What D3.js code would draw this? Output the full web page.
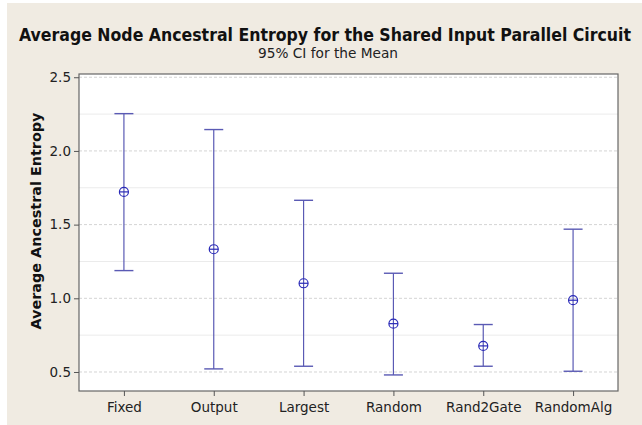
<!DOCTYPE html>
<html><head><meta charset="utf-8">
<script src="https://cdn.jsdelivr.net/npm/d3@7"></script>
<style>body{margin:0;background:#fff}svg{display:block}</style>
</head><body>
<svg id="c" width="642" height="425"></svg>
<script>
const categories = ["Fixed","Output","Largest","Random","Rand2Gate","RandomAlg"];
const means = [1.722, 1.333, 1.102, 0.828, 0.677, 0.987];
const lower = [1.188, 0.521, 0.539, 0.480, 0.539, 0.505];
const upper = [2.253, 2.145, 1.665, 1.170, 0.822, 1.469];
const yTicks = [0.5, 1.0, 1.5, 2.0, 2.5];
const yMinor = [0.75, 1.25, 1.75, 2.25];

const svg = d3.select("#c");
const m = {l:79, r:618, t:74, b:391};
svg.append("rect").attr("x",7).attr("y",3).attr("width",635).attr("height",422).attr("fill","#f0ebe2");

const x = d3.scalePoint().domain(categories).range([m.l, m.r]).padding(0.5);
const y = d3.scaleLinear().domain([0.371, 2.522]).range([m.b, m.t]);

svg.append("rect").attr("x",m.l).attr("y",m.t).attr("width",m.r-m.l).attr("height",m.b-m.t).attr("fill","#fff");

// gridlines
svg.append("g").selectAll("line").data(yMinor).join("line")
  .attr("x1",m.l).attr("x2",m.r).attr("y1",d=>y(d)).attr("y2",d=>y(d))
  .attr("stroke","#ebebeb").attr("stroke-width",1);
svg.append("g").selectAll("line").data(yTicks).join("line")
  .attr("x1",m.l).attr("x2",m.r).attr("y1",d=>y(d)).attr("y2",d=>y(d))
  .attr("stroke","#d4d4d4").attr("stroke-width",1).attr("stroke-dasharray","3,2");

// frame
svg.append("rect").attr("x",m.l).attr("y",m.t).attr("width",m.r-m.l).attr("height",m.b-m.t)
  .attr("fill","none").attr("stroke","#666").attr("stroke-width",1.2);

const font = "Tahoma, 'DejaVu Sans', Verdana, sans-serif";
const titleFont = "'DejaVu Sans Condensed', 'Liberation Sans Narrow', 'DejaVu Sans', sans-serif";
// y axis
const ya = svg.append("g").attr("transform",`translate(${m.l},0)`)
  .call(d3.axisLeft(y).tickValues(yTicks).tickFormat(d3.format(".1f")).tickSize(5).tickPadding(3));
ya.select(".domain").remove();
ya.selectAll("line").attr("stroke","#555");
ya.selectAll("text").attr("font-family",font).attr("font-size",13.5).attr("fill","#222");

// x axis
const xa = svg.append("g").attr("transform",`translate(0,${m.b})`)
  .call(d3.axisBottom(x).tickSize(5).tickPadding(6));
xa.select(".domain").remove();
xa.selectAll("line").attr("stroke","#555");
xa.selectAll("text").attr("font-family",font).attr("font-size",13.5).attr("fill","#222");

// error bars
const g = svg.append("g");
const barCol = "#5a5ab4";
categories.forEach((c,i)=>{
  const cx = x(c);
  g.append("line").attr("x1",cx).attr("x2",cx).attr("y1",y(lower[i])).attr("y2",y(upper[i]))
    .attr("stroke",barCol).attr("stroke-width",1.2);
  [lower[i],upper[i]].forEach(v=>{
    g.append("line").attr("x1",cx-9.5).attr("x2",cx+9.5).attr("y1",y(v)).attr("y2",y(v))
      .attr("stroke",barCol).attr("stroke-width",1.4);
  });
  const cy = y(means[i]);
  g.append("circle").attr("cx",cx).attr("cy",cy).attr("r",4.5).attr("fill","none").attr("stroke","#2a2ab8").attr("stroke-width",1.2);
  g.append("line").attr("x1",cx-4.5).attr("x2",cx+4.5).attr("y1",cy).attr("y2",cy).attr("stroke","#2a2ab8").attr("stroke-width",1.2);
});

// titles
svg.append("text").attr("x",325).attr("y",41).attr("text-anchor","middle")
  .attr("font-family",titleFont).attr("font-weight","bold").attr("font-size",17).attr("fill","#111")
  .attr("textLength",612).attr("lengthAdjust","spacingAndGlyphs")
  .text("Average Node Ancestral Entropy for the Shared Input Parallel Circuit");
svg.append("text").attr("x",328).attr("y",58).attr("text-anchor","middle")
  .attr("font-family",font).attr("font-size",14).attr("fill","#222")
  .attr("textLength",140).attr("lengthAdjust","spacingAndGlyphs")
  .text("95% CI for the Mean");
svg.append("text").attr("transform","translate(41,221) rotate(-90)").attr("text-anchor","middle")
  .attr("font-family",font).attr("font-weight","bold").attr("font-size",14).attr("fill","#111")
  .attr("textLength",217).attr("lengthAdjust","spacingAndGlyphs")
  .text("Average Ancestral Entropy");
</script>
</body></html>
